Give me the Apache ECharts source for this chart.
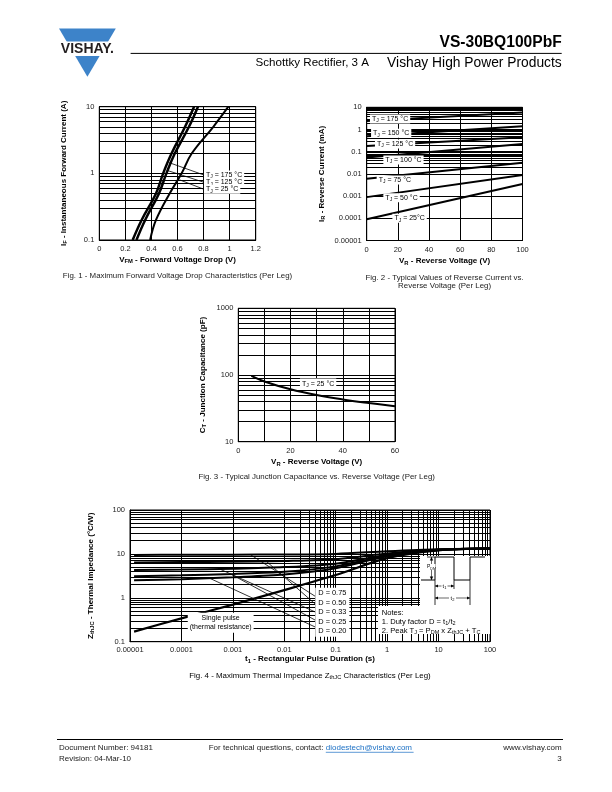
<!DOCTYPE html>
<html><head><meta charset="utf-8">
<script src="https://cdn.jsdelivr.net/npm/echarts@6/dist/echarts.min.js"></script>
<style>html,body{margin:0;padding:0;background:#fff}#c{width:612px;height:792px}</style>
</head><body><div id="c"></div>
<script>
// ================= DATA =================
// Fig. 1 - forward voltage drop (V) vs instantaneous forward current (A)
const fig1XTicks = ['0', '0.2', '0.4', '0.6', '0.8', '1', '1.2'];
const fig1YTicks = ['0.1', '1', '10'];
const fig1Current = [0.1, 0.2, 0.5, 1, 2, 5, 10];
const fig1VfT175 = [0.256, 0.325, 0.435, 0.49, 0.555, 0.658, 0.727];
const fig1VfT125 = [0.285, 0.352, 0.458, 0.515, 0.58, 0.688, 0.757];
const fig1VfT25 = [0.39, 0.435, 0.54, 0.632, 0.71, 0.875, 0.99];
const fig1Labels = ['{n|T}{s|J}{n| = 175 °C}', '{n|T}{s|J}{n| = 125 °C}', '{n|T}{s|J}{n| = 25 °C}'];

// Fig. 2 - reverse current (mA) vs reverse voltage (V)
const fig2XTicks = ['0', '20', '40', '60', '80', '100'];
const fig2YTicks = ['0.00001', '0.0001', '0.001', '0.01', '0.1', '1', '10'];
const fig2Temps = ['175 °C', '150 °C', '125 °C', '100 °C', '75 °C', '50 °C', '25°C'];
const fig2VoltEnds = [0, 100];
const fig2IrAt0V = [2.4, 0.5, 0.18, 0.055, 0.006, 0.0009, 0.00009];
const fig2IrAt100V = [5.8, 1.4, 0.45, 0.22, 0.032, 0.009, 0.0035];

// Fig. 3 - junction capacitance (pF) vs reverse voltage (V)
const fig3XTicks = ['0', '', '20', '', '40', '', '60'];
const fig3YTicks = ['10', '100', '1000'];
const fig3Volt = [5, 10, 20, 30, 40, 50, 60];
const fig3Cap = [97, 80, 61, 50, 43, 38, 34];

// Fig. 4 - thermal impedance (°C/W) vs pulse duration (s)
const fig4XTicks = ['0.00001', '0.0001', '0.001', '0.01', '0.1', '1', '10', '100'];
const fig4YTicks = ['0.1', '1', '10', '100'];
const fig4Time = [1.2e-5, 1e-4, 1e-3, 1e-2, 1e-1, 1, 10, 100];
const fig4Single = [0.17, 0.34, 0.70, 1.5, 3.3, 8.0, 12.0, 13.3];
const fig4D075 = [9.5, 9.55, 9.6, 9.7, 10.0, 11.5, 12.8, 13.3];
const fig4D050 = [6.4, 6.5, 6.6, 6.9, 7.6, 10.2, 12.6, 13.3];
const fig4D033 = [4.3, 4.4, 4.6, 5.0, 6.0, 9.4, 12.4, 13.3];
const fig4D025 = [3.1, 3.25, 3.5, 3.9, 5.2, 9.0, 12.3, 13.3];
const fig4D020 = [2.5, 2.65, 2.95, 3.4, 4.7, 8.8, 12.2, 13.3];
const fig4DNames = ['D = 0.75', 'D = 0.50', 'D = 0.33', 'D = 0.25', 'D = 0.20'];

// ================= ANNOTATION PLACEMENT (data coordinates) =================
const fig1LabelPos = [[0.803, 0.944], [0.803, 0.734], [0.803, 0.577]];
const fig1LeaderEnds = [[0.535, 1.45], [0.525, 1.1], [0.615, 0.8]];
const fig2LabelPos = [[2.1, 2.97], [2.8, 0.675], [5.3, 0.222], [10.7, 0.0423], [6.4, 0.0053], [10.7, 0.00085], [16.5, 0.0001]];
const fig3LabelPos = [23.6, 73];
const fig4LeaderStarts = [[0.0022, 9.6], [0.0045, 6.75], [0.00056, 4.5], [0.0009, 3.5], [0.00034, 2.85]];
const fig4LeaderEnds = [[0.04, 1.08], [0.04, 0.72], [0.04, 0.475], [0.04, 0.31], [0.04, 0.216]];
const fig4DLabelPos = [0.04, 0.47];
const fig4SingleLabelPos = [5.8e-4, 0.27];

const FONT = '"Liberation Sans", Arial, Helvetica, sans-serif';
function rich(size, bold) {
  const w = bold ? 'bold' : 'normal';
  const ss = Math.round(size * 0.72 * 10) / 10;
  return {
    n: { fontSize: size, fontWeight: w, fontFamily: FONT, color: '#000', lineHeight: size + 2 },
    s: { fontSize: ss, fontWeight: w, fontFamily: FONT, color: '#000', lineHeight: ss, verticalAlign: 'bottom' }
  };
}
function minors(e0, e1) {
  const out = [];
  for (let e = e0; e < e1; e++) for (let m = 2; m <= 9; m++) out.push(+(m * Math.pow(10, e)).toPrecision(3));
  return out;
}
const logIdx = v => Math.round(Math.log10(v));

const gridBase = { show: true, borderColor: '#000', borderWidth: 1, backgroundColor: 'transparent', containLabel: false, outerBoundsMode: 'none' };
const grids = [
  Object.assign({ left: 99.3, top: 106.7, width: 156.4, height: 133.3 }, gridBase),
  Object.assign({ left: 366.7, top: 107.3, width: 155.8, height: 133.2 }, gridBase),
  Object.assign({ left: 238.3, top: 308.3, width: 156.7, height: 133.4 }, gridBase),
  Object.assign({ left: 130, top: 510, width: 360, height: 131.7 }, gridBase)
];

const lblStyle = { fontSize: 7.5, fontFamily: FONT, color: '#222', margin: 5 };
const splitBlack = { show: true, lineStyle: { color: '#000', width: 1, type: 'solid' } };
const axisLineBlack = { show: true, lineStyle: { color: '#000', width: 1 } };
function axName(text, gap, rotate) {
  return { name: text, nameLocation: 'middle', nameGap: gap, nameRotate: rotate, nameTextStyle: { rich: rich(8, true) } };
}

const xAxes = [
  Object.assign({ gridIndex: 0, type: 'value', min: 0, max: 1.2, interval: 0.2,
    axisLine: axisLineBlack, axisTick: { show: false }, splitLine: splitBlack,
    axisLabel: Object.assign({ formatter: v => fig1XTicks[Math.round(v / 0.2)] }, lblStyle) },
    axName('{n|V}{s|FM}{n| - Forward Voltage Drop (V)}', 14.5, 0)),
  Object.assign({ gridIndex: 1, type: 'value', min: 0, max: 100, interval: 20,
    axisLine: axisLineBlack, axisTick: { show: false }, splitLine: splitBlack,
    axisLabel: Object.assign({ formatter: v => fig2XTicks[Math.round(v / 20)] }, lblStyle) },
    axName('{n|V}{s|R}{n| - Reverse Voltage (V)}', 15.5, 0)),
  Object.assign({ gridIndex: 2, type: 'value', min: 0, max: 60, interval: 10,
    axisLine: axisLineBlack, axisTick: { show: false }, splitLine: splitBlack,
    axisLabel: Object.assign({ formatter: v => fig3XTicks[Math.round(v / 10)] }, lblStyle) },
    axName('{n|V}{s|R}{n| - Reverse Voltage (V)}', 15.5, 0)),
  Object.assign({ gridIndex: 3, type: 'log', logBase: 10, min: 1e-5, max: 100, splitNumber: 7,
    axisLine: axisLineBlack, axisTick: { show: false }, splitLine: splitBlack,
    axisLabel: Object.assign({}, lblStyle, { margin: 4, formatter: v => fig4XTicks[logIdx(v) + 5] }) },
    axName('{n|t}{s|1}{n| - Rectangular Pulse Duration (s)}', 12.5, 0))
];
const yAxes = [
  Object.assign({ gridIndex: 0, type: 'log', logBase: 10, min: 0.1, max: 10, splitNumber: 2,
    axisLine: axisLineBlack, axisTick: { show: false }, splitLine: splitBlack,
    axisLabel: Object.assign({ formatter: v => fig1YTicks[logIdx(v) + 1] }, lblStyle) },
    axName('{n|I}{s|F}{n| - Instantaneous Forward Current (A)}', 30.5, 90)),
  Object.assign({ gridIndex: 1, type: 'log', logBase: 10, min: 1e-5, max: 10, splitNumber: 6,
    axisLine: axisLineBlack, axisTick: { show: false }, splitLine: splitBlack,
    axisLabel: Object.assign({ formatter: v => fig2YTicks[logIdx(v) + 5] }, lblStyle) },
    axName('{n|I}{s|R}{n| - Reverse Current (mA)}', 40, 90)),
  Object.assign({ gridIndex: 2, type: 'log', logBase: 10, min: 10, max: 1000, splitNumber: 2,
    axisLine: axisLineBlack, axisTick: { show: false }, splitLine: splitBlack,
    axisLabel: Object.assign({ formatter: v => fig3YTicks[logIdx(v) - 1] }, lblStyle) },
    axName('{n|C}{s|T}{n| - Junction Capacitance (pF)}', 31, 90)),
  Object.assign({ gridIndex: 3, type: 'log', logBase: 10, min: 0.1, max: 100, splitNumber: 3,
    axisLine: axisLineBlack, axisTick: { show: false }, splitLine: splitBlack,
    axisLabel: Object.assign({ formatter: v => fig4YTicks[logIdx(v) + 1] }, lblStyle) },
    axName('{n|Z}{s|thJC}{n| - Thermal Impedance (°C/W)}', 34.5, 90))
];

const series = [];
function gridLines(idx, xs, ys) {
  series.push({ type: 'line', xAxisIndex: idx, yAxisIndex: idx, data: [], silent: true, z: 1, animation: false,
    markLine: { silent: true, z: 1, symbol: ['none', 'none'], animation: false, label: { show: false },
      lineStyle: { color: '#000', width: 1, type: 'solid' }, emphasis: { disabled: true },
      data: xs.map(v => ({ xAxis: v })).concat(ys.map(v => ({ yAxis: v }))) } });
}
function curve(idx, data, width, smooth) {
  series.push({ type: 'line', xAxisIndex: idx, yAxisIndex: idx, data, showSymbol: false, symbol: 'none',
    smooth: smooth, lineStyle: { color: '#000', width }, z: 3, silent: true, animation: false });
}

// grids
gridLines(0, [], minors(-1, 1));
gridLines(1, [], minors(-5, 1));
gridLines(2, [], minors(1, 3));
gridLines(3, minors(-5, 2), minors(-1, 2));

// Fig 1
curve(0, fig1Current.map((c, i) => [fig1VfT175[i], c]), 2.5, 0.4);
curve(0, fig1Current.map((c, i) => [fig1VfT125[i], c]), 2.5, 0.4);
curve(0, fig1Current.map((c, i) => [fig1VfT25[i], c]), 2, 0.4);
fig1LabelPos.forEach((p, i) => curve(0, [p, fig1LeaderEnds[i]], 0.8, false));

// Fig 2
fig2Temps.forEach((t, i) => curve(1, [[fig2VoltEnds[0], fig2IrAt0V[i]], [fig2VoltEnds[1], fig2IrAt100V[i]]], 2, false));

// Fig 3
curve(2, fig3Volt.map((v, i) => [v, fig3Cap[i]]), 2, 0.4);

// Fig 4
[fig4D075, fig4D050, fig4D033, fig4D025, fig4D020].forEach(d => curve(3, fig4Time.map((t, i) => [t, d[i]]), 2, 0.3));
curve(3, fig4Time.map((t, i) => [t, fig4Single[i]]), 2.2, 0.3);
fig4LeaderStarts.forEach((p, i) => curve(3, [p, fig4LeaderEnds[i]], 0.8, false));

// ================= GRAPHICS (page furniture) =================
function txt(text, x, y, size, opts) {
  return { type: 'text', z: 200, style: Object.assign({ text, x, y, fontSize: size, fontFamily: FONT,
    fill: '#000', align: 'left', verticalAlign: 'middle' }, opts || {}) };
}
function ln(x1, y1, x2, y2, w, col) {
  return { type: 'line', z: 200, shape: { x1, y1, x2, y2 }, style: { stroke: col || '#000', lineWidth: w || 1 } };
}
function tri(pts) { return { type: 'polygon', z: 201, shape: { points: pts }, style: { fill: '#000' } }; }
const r7 = rich(7, false);
const r75 = rich(7.6, false);
const capStyle = { align: 'center', fill: '#222' };
const graphics = [
  // logo
  { type: 'polygon', z: 200, shape: { points: [[59, 28.6], [115.8, 28.6], [87.4, 76.8]] }, style: { fill: '#3d83c9' } },
  { type: 'rect', z: 200, shape: { x: 55, y: 41.6, width: 64, height: 14.4 }, style: { fill: '#fff' } },
  txt('VISHAY.', 87.4, 49.2, 14, { fontWeight: 'bold', align: 'center', fill: '#231f20' }),
  // header
  txt('VS-30BQ100PbF', 561.7, 42.4, 15.6, { fontWeight: 'bold', align: 'right' }),
  ln(130.6, 53.4, 561.7, 53.4, 1),
  txt('Schottky Rectifier, 3 A', 369, 63, 11.6, { align: 'right' }),
  txt('Vishay High Power Products', 561.7, 63, 13.8, { align: 'right' }),
  // captions
  txt('Fig. 1 - Maximum Forward Voltage Drop Characteristics (Per Leg)', 177.5, 276, 7.9, capStyle),
  txt('Fig. 2 - Typical Values of Reverse Current vs.', 444.6, 277.5, 7.9, capStyle),
  txt('Reverse Voltage (Per Leg)', 444.6, 286, 7.9, capStyle),
  txt('Fig. 3 - Typical Junction Capacitance vs. Reverse Voltage (Per Leg)', 316.7, 477, 7.9, capStyle),
  txt('{n|Fig. 4 - Maximum Thermal Impedance Z}{s|thJC}{n| Characteristics (Per Leg)}', 310, 675.5, 7.9,
    { align: 'center', rich: rich(7.9, false) }),
  // fig 4 notes / waveform boxes
  { type: 'rect', z: 150, shape: { x: 420, y: 556, width: 70, height: 52 }, style: { fill: '#fff' } },
  { type: 'rect', z: 150, shape: { x: 378, y: 606, width: 112, height: 28 }, style: { fill: '#fff' } },
  { type: 'polyline', z: 200, shape: { points: [[421, 580], [435, 580], [435, 557], [454, 557], [454, 580], [470, 580], [470, 557], [485, 557]] },
    style: { stroke: '#000', lineWidth: 1, fill: null } },
  ln(427, 557, 435, 557, 0.8),
  ln(431.5, 557, 431.5, 580, 0.6),
  tri([[429.8, 560.5], [433.2, 560.5], [431.5, 557]]),
  tri([[429.8, 576.5], [433.2, 576.5], [431.5, 580]]),
  { type: 'rect', z: 200, shape: { x: 427.5, y: 564, width: 8, height: 6 }, style: { fill: '#fff' } },
  txt('{n|P}{s|DM}', 431.5, 567, 5, { align: 'center', rich: rich(5, false) }),
  ln(435, 580, 435, 605, 0.8), ln(454, 580, 454, 589, 0.8), ln(470, 580, 470, 605, 0.8),
  ln(435, 586, 454, 586, 0.6),
  tri([[435, 586], [438, 584.5], [438, 587.5]]), tri([[454, 586], [451, 584.5], [451, 587.5]]),
  { type: 'rect', z: 200, shape: { x: 441.5, y: 582.5, width: 6, height: 7 }, style: { fill: '#fff' } },
  txt('{n|t}{s|1}', 444.5, 586, 5.5, { align: 'center', rich: rich(5.5, false) }),
  ln(435, 598, 470, 598, 0.6),
  tri([[435, 598], [438, 596.5], [438, 599.5]]), tri([[470, 598], [467, 596.5], [467, 599.5]]),
  { type: 'rect', z: 200, shape: { x: 449, y: 594.5, width: 7, height: 7 }, style: { fill: '#fff' } },
  txt('{n|t}{s|2}', 452.5, 598, 5.5, { align: 'center', rich: rich(5.5, false) }),
  txt('Notes:', 381.7, 612.5, 7.6),
  txt('{n|1. Duty factor D = t}{s|1}{n|/t}{s|2}', 381.7, 621.7, 7.6, { rich: r75 }),
  txt('{n|2. Peak T}{s|J}{n| = P}{s|DM}{n| x Z}{s|thJC}{n| + T}{s|C}', 381.7, 631, 7.6, { rich: r75 }),
  // footer
  ln(57, 739.5, 563, 739.5, 1.2),
  txt('Document Number: 94181', 59, 748, 8, { fill: '#222' }),
  txt('Revision: 04-Mar-10', 59, 758.5, 8, { fill: '#222' }),
  txt('For technical questions, contact: ', 208.7, 748, 8, { fill: '#222' }),
  txt('diodestech@vishay.com', 325.8, 748, 8, { fill: '#1a6fc4' }),
  ln(325.8, 752.3, 413.6, 752.3, 0.7, '#1a6fc4'),
  txt('www.vishay.com', 561.7, 748, 8, { align: 'right', fill: '#222' }),
  txt('3', 561.7, 758.5, 8, { align: 'right', fill: '#222' })
];

const chart = echarts.init(document.getElementById('c'), null, { renderer: 'canvas', width: 612, height: 792 });
chart.setOption({
  animation: false,
  backgroundColor: '#fff',
  textStyle: { fontFamily: FONT },
  grid: grids,
  xAxis: xAxes,
  yAxis: yAxes,
  series,
  graphic: graphics
});

// in-plot labels, placed through the axes' own scales
function labelAt(gridIndex, pos, text, align, padding, rs) {
  const p = chart.convertToPixel({ gridIndex }, pos);
  return { type: 'text', z: 180, style: { text, x: p[0], y: p[1], rich: rs || r7, fontSize: 7, fontFamily: FONT, fill: '#000',
    align, verticalAlign: 'middle', backgroundColor: '#fff', padding } };
}
const labelGraphics = [];
fig1Labels.forEach((t, i) => labelGraphics.push(labelAt(0, fig1LabelPos[i], t, 'left', [0, 2])));
fig2Temps.forEach((t, i) => labelGraphics.push(labelAt(1, fig2LabelPos[i], '{n|T}{s|J}{n| = ' + t + '}', 'left', [0, 2])));
labelGraphics.push(labelAt(2, fig3LabelPos, '{n|T}{s|J}{n| = 25 °C}', 'left', [1, 2]));
labelGraphics.push(labelAt(3, fig4DLabelPos, fig4DNames.map(s => '{n|' + s + '}').join('\n'), 'left', [1, 3], rich(7.4, false)));
labelGraphics.push(labelAt(3, fig4SingleLabelPos, '{n|Single pulse}\n{n|(thermal resistance)}', 'center', [1, 2]));
chart.setOption({ graphic: graphics.concat(labelGraphics) });
</script></body></html>
